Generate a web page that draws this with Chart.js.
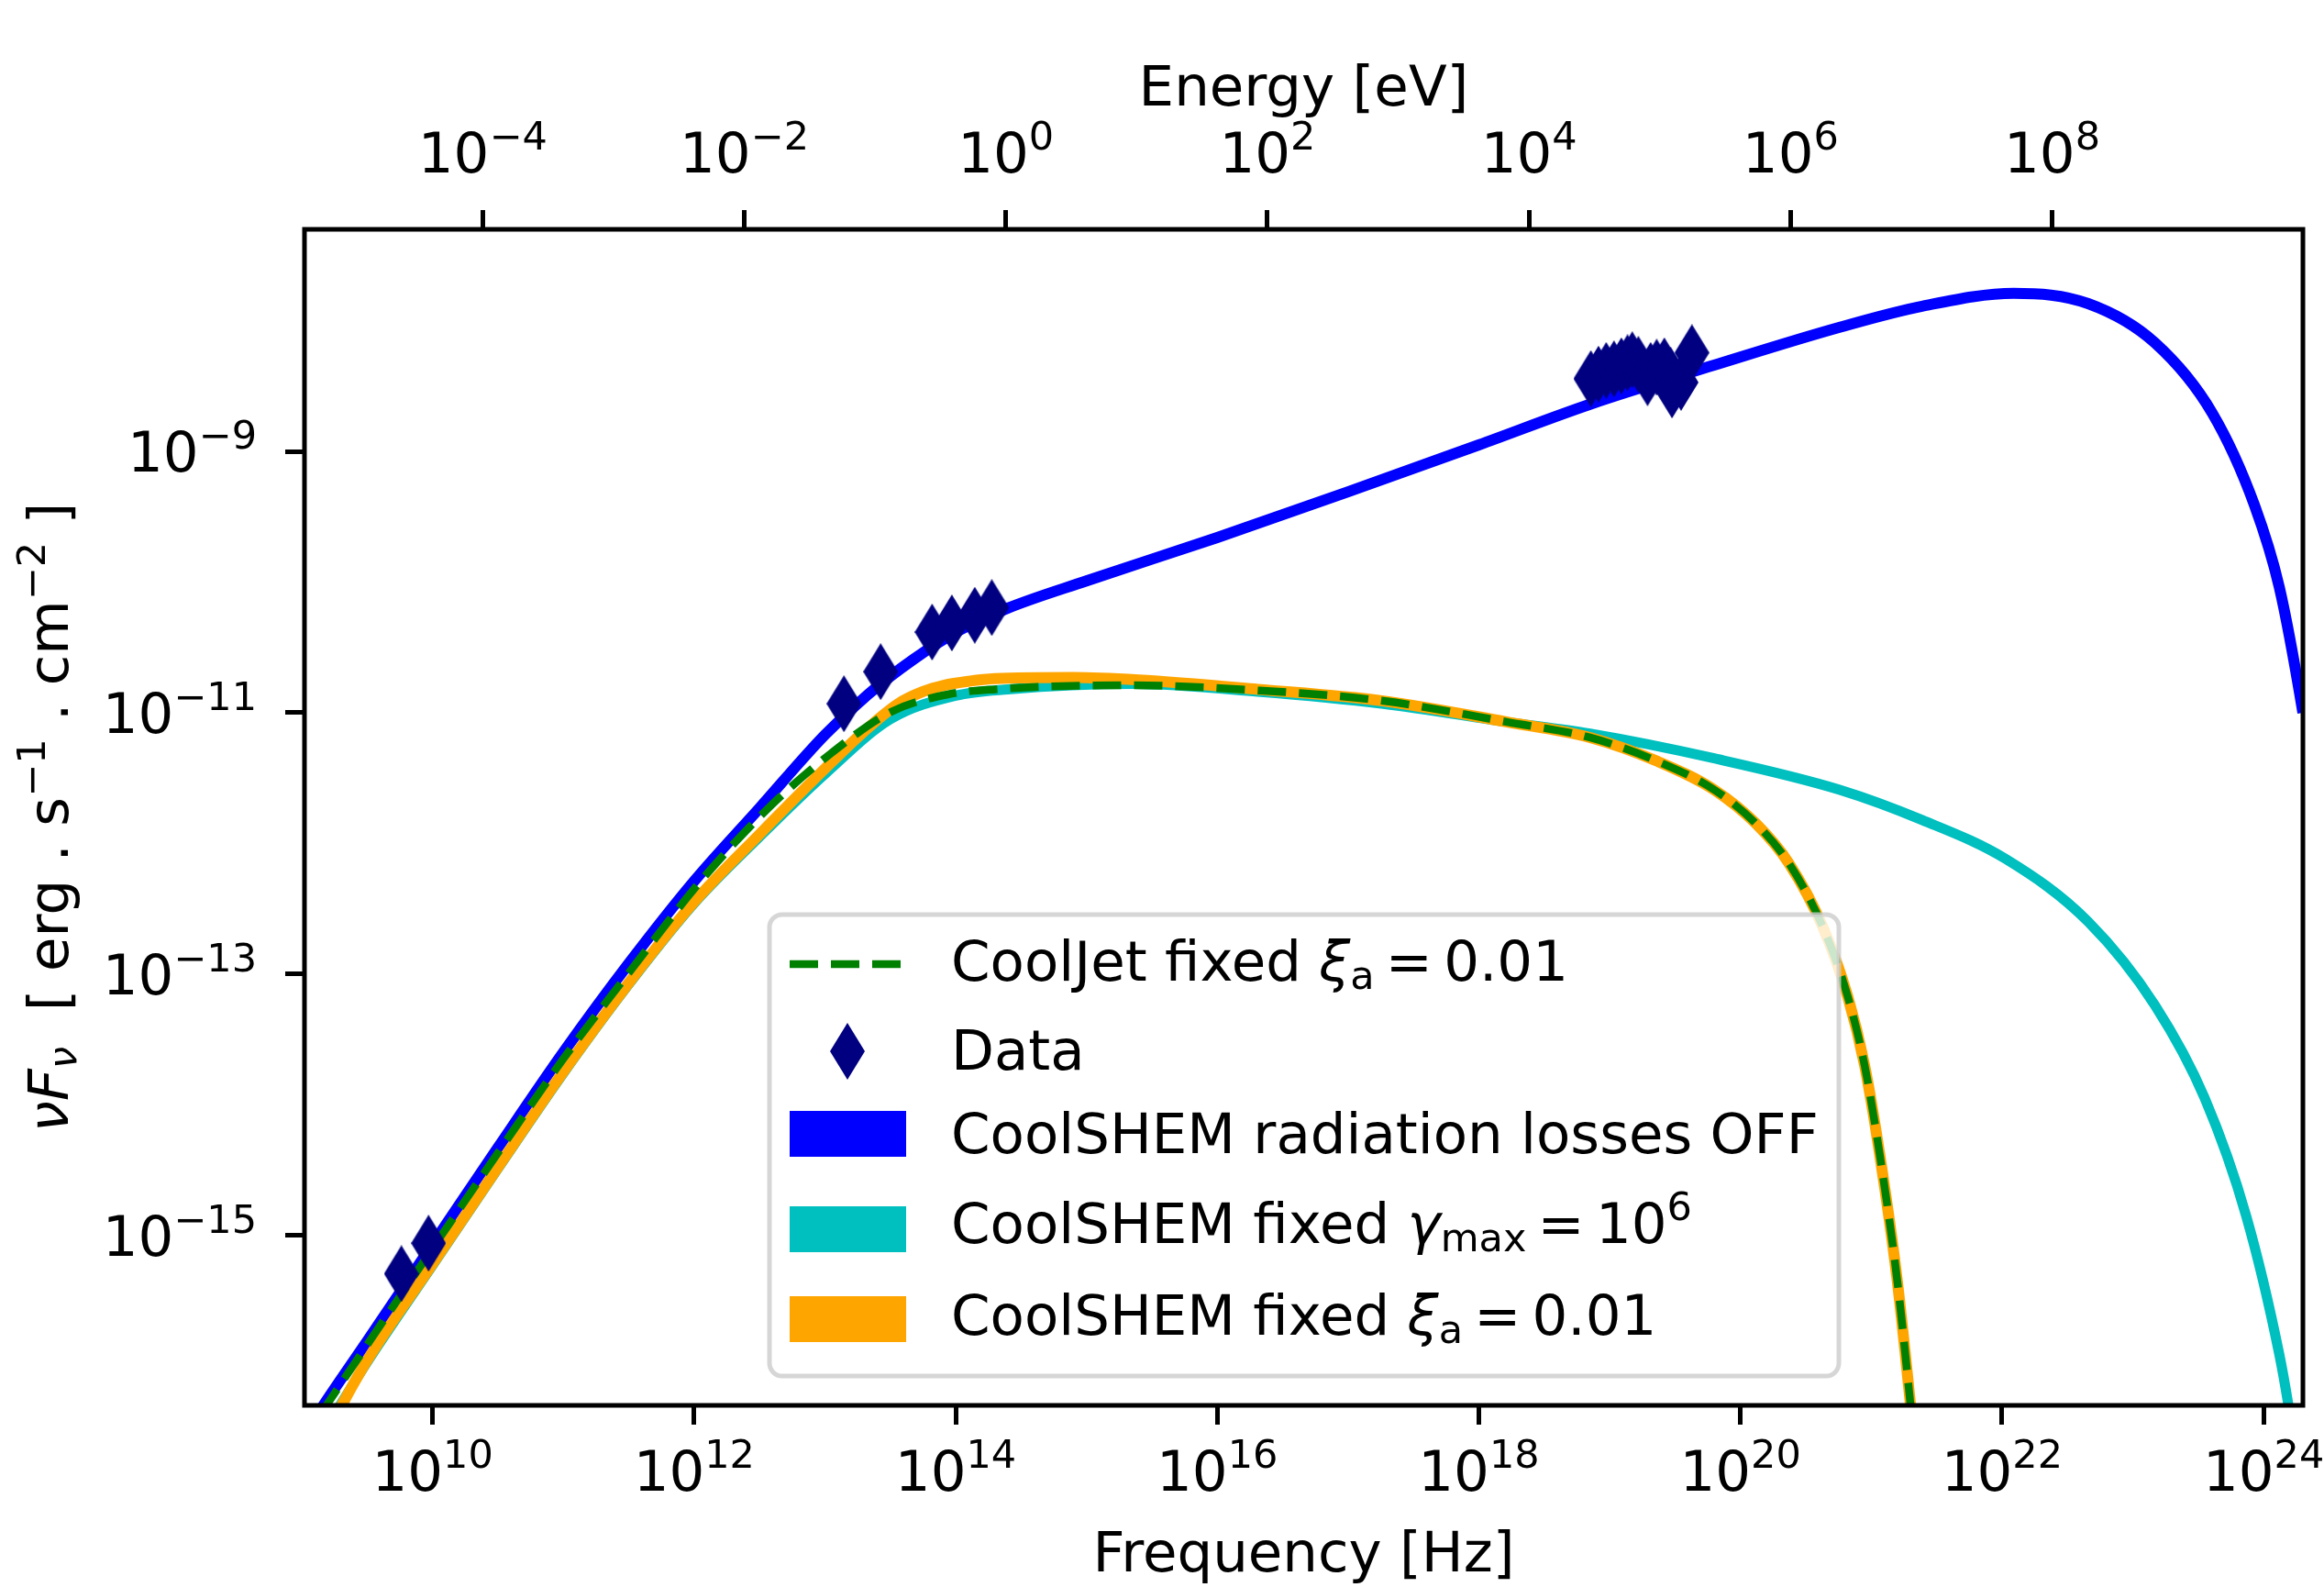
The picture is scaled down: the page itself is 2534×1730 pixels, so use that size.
<!DOCTYPE html>
<html>
<head>
<meta charset="utf-8">
<script src="https://cdn.jsdelivr.net/npm/chart.js@4.4.1/dist/chart.umd.min.js"></script>
<style>
  html, body { margin: 0; padding: 0; background: #fff; }
  #wrap { width: 2534px; height: 1730px; }
</style>
</head>
<body>
<div id="wrap"><canvas id="canvas" width="2534" height="1730"></canvas></div>
<script>
// values (frequency in Hz, nuFnu in erg/s/cm2)
var blueFreq = [1.26e9, 1.51e9, 3.16e9, 1.0e10, 3.16e10, 1.0e11, 3.16e11, 1.0e12, 3.16e12, 1.0e13, 2.14e13, 4.79e13, 1.07e14, 2.51e14,
                1.0e15, 1.0e16, 1.0e17, 1.0e18, 7.08e18, 6.31e19, 5.75e20, 2.45e21, 1.23e22, 4.57e22, 1.48e23, 4.07e23, 8.51e23, 1.32e24, 2.0e24, 2.51e24];
var blueFlux = [3.98e-17, 5.25e-17, 1.55e-16, 8.51e-16, 4.68e-15, 2.51e-14, 1.20e-13, 5.13e-13, 1.86e-12, 6.76e-12, 1.38e-11, 2.57e-11, 4.27e-11, 6.31e-11,
                1.02e-10, 2.19e-10, 4.90e-10, 1.12e-9, 2.29e-9, 4.57e-9, 8.91e-9, 1.29e-8, 1.62e-8, 1.35e-8, 6.76e-9, 1.95e-9, 3.89e-10, 9.12e-11, 1.0e-11, 2.24e-12];

var cyanFreq = [1.66e9, 3.16e9, 1.0e10, 3.16e10, 1.0e11, 3.16e11, 1.0e12, 3.16e12, 1.0e13, 3.16e13, 1.0e14, 2.51e14, 2.29e15, 2.04e16,
                1.86e17, 1.62e18, 7.08e18, 6.31e19, 5.75e20, 2.45e21, 1.07e22, 4.57e22, 1.48e23, 3.55e23, 7.41e23, 1.32e24, 1.55e24, 1.66e24];
var cyanFlux = [3.80e-17, 1.07e-16, 5.89e-16, 3.24e-15, 1.74e-14, 8.32e-14, 3.47e-13, 1.12e-12, 3.39e-12, 8.91e-12, 1.35e-11, 1.51e-11, 1.66e-11, 1.45e-11,
                1.17e-11, 8.51e-12, 6.92e-12, 4.47e-12, 2.57e-12, 1.51e-12, 7.59e-13, 2.51e-13, 5.75e-14, 1.12e-14, 1.38e-15, 1.23e-16, 5.01e-17, 3.16e-17];

var orangeFreq = [1.78e9, 3.16e9, 1.0e10, 3.16e10, 1.0e11, 3.16e11, 1.0e12, 3.16e12, 1.0e13, 1.91e13, 3.63e13, 5.62e13, 8.13e13, 1.26e14, 2.0e14, 7.94e14, 2.51e15,
                  2.04e16, 1.86e17, 1.62e18, 7.08e18, 2.29e19, 6.31e19, 1.32e20, 2.34e20, 4.27e20, 6.61e20, 8.91e20, 1.17e21, 1.58e21, 2.0e21, 2.19e21];
var orangeFlux = [3.98e-17, 1.10e-16, 6.03e-16, 3.31e-15, 1.78e-14, 8.51e-14, 3.55e-13, 1.17e-12, 3.72e-12, 6.92e-12, 1.17e-11, 1.45e-11, 1.62e-11, 1.74e-11, 1.82e-11, 1.86e-11, 1.78e-11,
                  1.51e-11, 1.23e-11, 8.51e-12, 6.46e-12, 4.27e-12, 2.57e-12, 1.41e-12, 7.08e-13, 2.29e-13, 6.76e-14, 2.0e-14, 3.98e-15, 4.57e-16, 5.01e-17, 2.0e-17];

var greenFreq = [1.41e9, 3.16e9, 1.0e10, 3.16e10, 1.0e11, 3.24e11, 1.12e12, 3.80e12, 1.12e13, 3.24e13, 8.71e13, 2.0e14, 2.29e15, 2.04e16, 1.86e17,
                 1.62e18, 7.08e18, 2.29e19, 6.31e19, 1.32e20, 2.34e20, 4.27e20, 6.61e20, 8.91e20, 1.17e21, 1.58e21, 2.0e21, 2.19e21];
var greenFlux = [4.37e-17, 1.45e-16, 7.94e-16, 4.27e-15, 2.24e-14, 1.05e-13, 5.13e-13, 1.91e-12, 4.90e-12, 1.02e-11, 1.38e-11, 1.51e-11, 1.62e-11, 1.48e-11, 1.23e-11,
                 8.51e-12, 6.46e-12, 4.27e-12, 2.57e-12, 1.41e-12, 7.08e-13, 2.29e-13, 6.76e-14, 2.0e-14, 3.98e-15, 4.57e-16, 5.01e-17, 2.0e-17];

var dataFreq = [5.78e9, 9.33e9, 1.40e13, 2.67e13, 6.61e13, 9.35e13, 1.40e14, 1.89e14,
                7.19e18, 8.22e18, 9.42e18, 1.08e19, 1.23e19, 1.37e19, 1.49e19, 1.66e19, 1.95e19, 2.06e19, 2.29e19, 2.62e19, 2.92e19, 3.00e19, 3.52e19, 4.26e19];
var dataFlux = [5.09e-16, 8.71e-16, 1.17e-11, 2.06e-11, 4.14e-11, 4.86e-11, 5.57e-11, 6.37e-11,
                3.60e-9, 3.90e-9, 4.16e-9, 4.28e-9, 4.51e-9, 4.76e-9, 5.02e-9, 4.63e-9, 3.66e-9, 4.16e-9, 4.40e-9, 4.51e-9, 3.84e-9, 2.95e-9, 3.37e-9, 5.69e-9];

var freqTicks = [1e10, 1e12, 1e14, 1e16, 1e18, 1e20, 1e22, 1e24];
var energyTicks = [1e-4, 1e-2, 1e0, 1e2, 1e4, 1e6, 1e8];
var fluxTicks = [1e-15, 1e-13, 1e-11, 1e-9];

var H_EV = 4.135667e-15;   // eV per Hz
var xMin = 1.05e9, xMax = 2.0e24, yMin = 5e-17, yMax = 5e-8;

var FONT = '"DejaVu Sans", sans-serif';
var FS = 61, FS_SMALL = 43;

function pts(xs, ys) {
   return xs.map(function (x, i) { return {x: x, y: ys[i]}; });
}

// thin diamond marker
var diamond = document.createElement('canvas');
diamond.width = 38;
diamond.height = 62;
(function () {
   var c = diamond.getContext('2d');
   c.fillStyle = '#000080';
   c.beginPath();
   c.moveTo(19, 0); c.lineTo(38, 31); c.lineTo(19, 62); c.lineTo(0, 31);
   c.closePath();
   c.fill();
})();

// tiny rich text helper (sub / superscripts, italics)
function partFont(p) {
   var size = (p.sup || p.sub) ? FS_SMALL : FS;
   return (p.it ? 'italic ' : '') + size + 'px ' + FONT;
}
function richWidth(ctx, parts) {
   var w = 0;
   parts.forEach(function (p) { ctx.font = partFont(p); w += ctx.measureText(p.t).width; });
   return w;
}
function drawRich(ctx, parts, x, y, align) {
   var w = richWidth(ctx, parts);
   var cx = align === 'center' ? x - w / 2 : (align === 'right' ? x - w : x);
   ctx.textAlign = 'left';
   ctx.textBaseline = 'alphabetic';
   parts.forEach(function (p) {
      ctx.font = partFont(p);
      var dy = p.sup ? -25 : (p.sub ? 9 : 0);
      ctx.fillText(p.t, cx, y + dy);
      cx += ctx.measureText(p.t).width;
   });
}
function powerParts(v) {
   var e = Math.round(Math.log10(v));
   return [{t: '10'}, {t: String(e).replace('-', '\u2212'), sup: true}];
}

var yTitle = [{t: '\u03bd', it: 1}, {t: 'F', it: 1}, {t: '\u03bd', it: 1, sub: 1}, {t: '  [ erg . s'}, {t: '\u22121', sup: 1},
              {t: ' . cm'}, {t: '\u22122', sup: 1}, {t: ' ]'}];

var legendRows = [
   {kind: 'dash', color: '#008000', parts: [{t: 'CoolJet fixed '}, {t: '\u03be', it: 1}, {t: 'a', sub: 1}, {t: '\u2009=\u20090.01'}], hy: 1051, ty: 1069},
   {kind: 'marker', parts: [{t: 'Data'}], hy: 1146, ty: 1166},
   {kind: 'patch', color: '#0000ff', parts: [{t: 'CoolSHEM radiation losses OFF'}], hy: 1236, ty: 1257},
   {kind: 'patch', color: '#00bfbf', parts: [{t: 'CoolSHEM fixed '}, {t: '\u03b3', it: 1}, {t: 'max', sub: 1}, {t: '\u2009=\u200910'}, {t: '6', sup: 1}], hy: 1340, ty: 1355},
   {kind: 'patch', color: '#ffa500', parts: [{t: 'CoolSHEM fixed '}, {t: '\u03be', it: 1}, {t: 'a', sub: 1}, {t: '\u2009=\u20090.01'}], hy: 1438, ty: 1455}
];

function drawLegend(ctx) {
   var x = 839, y = 997, w = 1166, h = 503, r = 14;
   ctx.save();
   ctx.beginPath();
   ctx.moveTo(x + r, y);
   ctx.arcTo(x + w, y, x + w, y + h, r);
   ctx.arcTo(x + w, y + h, x, y + h, r);
   ctx.arcTo(x, y + h, x, y, r);
   ctx.arcTo(x, y, x + w, y, r);
   ctx.closePath();
   ctx.fillStyle = 'rgba(255,255,255,0.8)';
   ctx.fill();
   ctx.lineWidth = 5;
   ctx.strokeStyle = 'rgba(204,204,204,0.8)';
   ctx.stroke();

   legendRows.forEach(function (row) {
      if (row.kind === 'dash') {
         ctx.strokeStyle = row.color;
         ctx.lineWidth = 8.5;
         ctx.setLineDash([31, 14]);
         ctx.beginPath();
         ctx.moveTo(861, row.hy);
         ctx.lineTo(988, row.hy);
         ctx.stroke();
         ctx.setLineDash([]);
      } else if (row.kind === 'marker') {
         ctx.drawImage(diamond, 924 - diamond.width / 2, row.hy - diamond.height / 2);
      } else {
         ctx.fillStyle = row.color;
         ctx.fillRect(861, row.hy - 25, 127, 50);
      }
      ctx.fillStyle = '#000';
      drawRich(ctx, row.parts, 1037, row.ty, 'left');
   });
   ctx.restore();
}

var decorations = {
   id: 'decorations',
   afterDatasetsDraw: function (chart) {
      var ctx = chart.ctx, a = chart.chartArea;
      ctx.save();
      ctx.strokeStyle = '#000';
      ctx.lineWidth = 5;
      ctx.strokeRect(a.left, a.top, a.right - a.left, a.bottom - a.top);

      ctx.fillStyle = '#000';
      var sx = chart.scales.x, st = chart.scales.x2, sy = chart.scales.y;
      sx.ticks.forEach(function (t) { drawRich(ctx, powerParts(t.value), sx.getPixelForValue(t.value), 1625, 'center'); });
      st.ticks.forEach(function (t) { drawRich(ctx, powerParts(t.value), st.getPixelForValue(t.value), 188, 'center'); });
      sy.ticks.forEach(function (t) { drawRich(ctx, powerParts(t.value), 280, sy.getPixelForValue(t.value) + 22, 'right'); });

      ctx.font = FS + 'px ' + FONT;
      ctx.textAlign = 'center';
      ctx.textBaseline = 'alphabetic';
      ctx.fillText('Frequency [Hz]', (a.left + a.right) / 2, 1713);
      ctx.fillText('Energy [eV]', (a.left + a.right) / 2, 115);

      ctx.save();
      ctx.translate(74, (a.top + a.bottom) / 2);
      ctx.rotate(-Math.PI / 2);
      drawRich(ctx, yTitle, 0, 0, 'center');
      ctx.restore();
      ctx.restore();

      drawLegend(ctx);
   }
};

function logAxis(position, min, max, tickValues, size) {
   return {
      type: 'logarithmic',
      position: position,
      min: min,
      max: max,
      bounds: 'data',
      afterBuildTicks: function (scale) {
         scale.ticks = tickValues.map(function (v) { return {value: v}; });
      },
      afterFit: function (scale) {
         if (position === 'left') scale.width = size; else scale.height = size;
      },
      ticks: { autoSkip: false, maxRotation: 0, callback: function () { return ''; } },
      grid: { drawOnChartArea: false, drawTicks: true, tickLength: 21, tickWidth: 5, tickColor: '#000', color: '#000', lineWidth: 5 },
      border: { display: false }
   };
}

function curve(label, xs, ys, color, width, order, dash) {
   return {
      label: label,
      data: pts(xs, ys),
      showLine: true,
      borderColor: color,
      backgroundColor: color,
      borderWidth: width,
      borderDash: dash || [],
      borderJoinStyle: 'round',
      pointRadius: 0,
      cubicInterpolationMode: 'monotone',
      fill: false,
      clip: 0,
      order: order
   };
}

var config = {
   type: 'scatter',
   data: {
      datasets: [
         {
            label: 'Data',
            data: pts(dataFreq, dataFlux),
            showLine: false,
            pointStyle: diamond,
            pointRadius: 20,
            pointHoverRadius: 20,
            order: 0
         },
         curve('CoolJet fixed xi_a = 0.01', greenFreq, greenFlux, '#008000', 8.5, 1, [31, 14]),
         curve('CoolSHEM fixed xi_a = 0.01', orangeFreq, orangeFlux, '#ffa500', 12, 2),
         curve('CoolSHEM fixed gamma_max = 1e6', cyanFreq, cyanFlux, '#00bfbf', 11, 3),
         curve('CoolSHEM radiation losses OFF', blueFreq, blueFlux, '#0000ff', 12, 4)
      ]
   },
   options: {
      responsive: false,
      animation: false,
      devicePixelRatio: 1,
      events: [],
      layout: { padding: { left: 0, right: 23, top: 0, bottom: 0 } },
      plugins: { legend: { display: false }, tooltip: { enabled: false } },
      scales: {
         x: logAxis('bottom', xMin, xMax, freqTicks, 198),
         x2: logAxis('top', xMin * H_EV, xMax * H_EV, energyTicks, 250),
         y: logAxis('left', yMin, yMax, fluxTicks, 332)
      }
   },
   plugins: [decorations]
};

window.sedChart = new Chart(document.getElementById('canvas'), config);
</script>
</body>
</html>
